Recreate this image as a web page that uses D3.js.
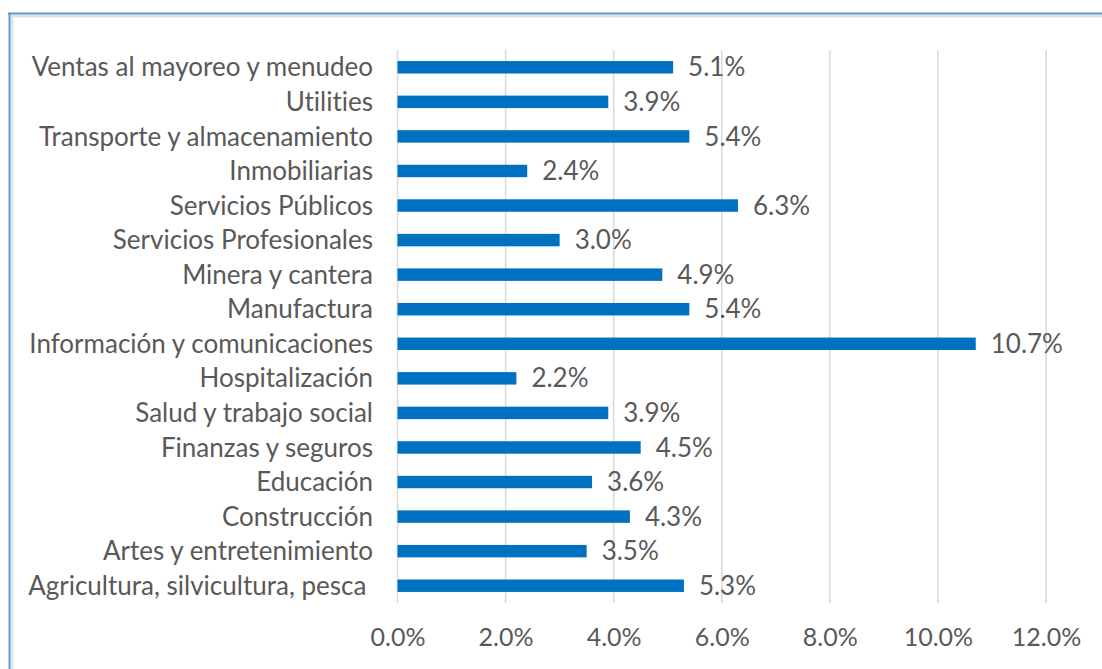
<!DOCTYPE html>
<html><head><meta charset="utf-8">
<script src="https://cdn.jsdelivr.net/npm/d3@7"></script>
<style>html,body{margin:0;padding:0;background:#fff;}svg{display:block;}text{font-variant-ligatures:none;font-feature-settings:"liga" 0;}</style>
</head><body>
<script>
const categories = ["Ventas al mayoreo y menudeo","Utilities","Transporte y almacenamiento","Inmobiliarias","Servicios Públicos","Servicios Profesionales","Minera y cantera","Manufactura","Información y comunicaciones","Hospitalización","Salud y trabajo social","Finanzas y seguros","Educación","Construcción","Artes y entretenimiento","Agricultura, silvicultura, pesca "];
const values = [5.1,3.9,5.4,2.4,6.3,3.0,4.9,5.4,10.7,2.2,3.9,4.5,3.6,4.3,3.5,5.3];
const tickValues = [0,2,4,6,8,10,12];

const W=1102,H=669;
const svg=d3.select("body").append("svg").attr("width",W).attr("height",H);
const font="Lato, Open Sans, sans-serif";
const fs="26px";
// frame
svg.append("line").attr("x1",9).attr("x2",W).attr("y1",16).attr("y2",16).attr("stroke","#e3e3e3").attr("stroke-width",3);
svg.append("line").attr("x1",12).attr("x2",12).attr("y1",13).attr("y2",H).attr("stroke","#e3e3e3").attr("stroke-width",3);
svg.append("line").attr("x1",8).attr("x2",W).attr("y1",13.5).attr("y2",13.5).attr("stroke","#5b9bd5").attr("stroke-width",2);
svg.append("line").attr("x1",9.5).attr("x2",9.5).attr("y1",13).attr("y2",H).attr("stroke","#5b9bd5").attr("stroke-width",2);

const x=d3.scaleLinear().domain([0,12]).range([397.5,1046]);
const y=d3.scaleBand().domain(categories).range([50,603]).paddingInner(0.64).paddingOuter(0.32);

const g=svg.append("g");
g.selectAll("line.grid").data(tickValues).join("line").attr("class","grid")
  .attr("x1",d=>x(d)).attr("x2",d=>x(d)).attr("y1",50).attr("y2",603)
  .attr("stroke","#d9d9d9").attr("stroke-width",1.5);
const xAxis=d3.axisBottom(x).tickValues(tickValues).tickFormat(d=>d.toFixed(1)+"%").tickSize(0).tickPadding(0);
const ax=g.append("g").attr("transform","translate(0,637)").call(xAxis);
ax.select(".domain").remove();
ax.selectAll("text").attr("fill","#595959").style("font-family",font).style("font-size","25px").attr("dy","0.35em").attr("y",0);
const yAxis=d3.axisLeft(y).tickSize(0).tickPadding(0);
const ay=g.append("g").attr("transform","translate(373,0)").call(yAxis);
ay.select(".domain").remove();
ay.selectAll("text").attr("fill","#595959").style("font-family",font).style("font-size",fs).attr("dy","0.35em").attr("xml:space","preserve");
g.selectAll("rect.bar").data(values).join("rect").attr("class","bar")
  .attr("x",x(0)).attr("y",(d,i)=>y(categories[i])).attr("width",d=>x(d)-x(0)).attr("height",y.bandwidth())
  .attr("fill","#0070c0");
g.selectAll("text.val").data(values).join("text").attr("class","val")
  .attr("x",d=>x(d)+15).attr("y",(d,i)=>y(categories[i])+y.bandwidth()/2).attr("dy","0.35em")
  .attr("fill","#595959").style("font-family",font).style("font-size",fs).text(d=>d.toFixed(1)+"%");
</script>
</body></html>
